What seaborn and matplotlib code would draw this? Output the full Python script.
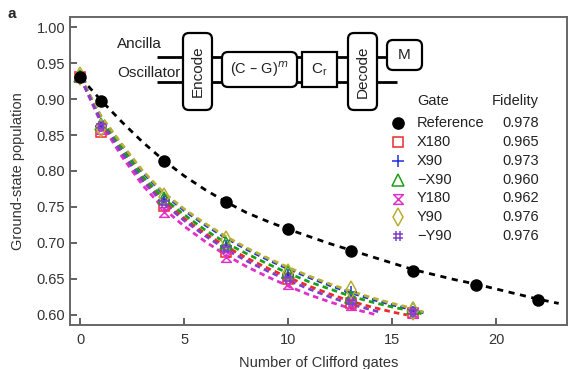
import numpy as np
import pandas as pd
import matplotlib
matplotlib.use("Agg")
import matplotlib.pyplot as plt
from matplotlib.path import Path
from matplotlib.patches import FancyBboxPatch
import seaborn as sns

# ── dados ──────────────────────────────────────────────
GATES = ["Reference", "X180", "X90", "\u2212X90", "Y180", "Y90", "\u2212Y90"]
FIDELITY = ["0.978", "0.965", "0.973", "0.960", "0.962", "0.976", "0.976"]

REF_X = [0, 1, 4, 7, 10, 13, 16, 19, 22]
REF_Y = [0.930, 0.897, 0.814, 0.757, 0.720, 0.689, 0.661, 0.642, 0.621]
REF_FIT_X = list(range(0, 24))
REF_FIT_Y = [0.930, 0.898, 0.868, 0.840, 0.815, 0.793, 0.774, 0.757, 0.742,
             0.730, 0.719, 0.709, 0.699, 0.690, 0.681, 0.672, 0.663, 0.656,
             0.649, 0.643, 0.636, 0.629, 0.622, 0.616]

GATE_X = [0, 1, 4, 7, 10, 13, 16]
X180_Y = [0.930, 0.854, 0.752, 0.688, 0.650, 0.617, 0.602]
X90_Y = [0.930, 0.862, 0.760, 0.696, 0.655, 0.632, 0.604]
MX90_Y = [0.932, 0.866, 0.762, 0.700, 0.660, 0.625, 0.610]
Y180_Y = [0.930, 0.858, 0.743, 0.681, 0.643, 0.614, 0.602]
Y90_Y = [0.932, 0.860, 0.764, 0.704, 0.658, 0.634, 0.606]
MY90_Y = [0.930, 0.862, 0.756, 0.692, 0.650, 0.618, 0.604]

FIT_X_LONG = list(range(0, 17)) + [16.5]
FIT_X_RED = list(range(0, 16)) + [15.7]
FIT_X_MAG = list(range(0, 15)) + [14.3]
FIT_X_PUR = list(range(0, 15)) + [14.4]
X180_FIT = [0.930, 0.870, 0.827, 0.788, 0.758, 0.734, 0.713, 0.695, 0.679,
            0.665, 0.652, 0.640, 0.629, 0.619, 0.611, 0.604, 0.600]
X90_FIT = [0.930, 0.875, 0.835, 0.798, 0.768, 0.745, 0.725, 0.707, 0.691,
           0.677, 0.664, 0.652, 0.641, 0.631, 0.622, 0.614, 0.607, 0.603]
MX90_FIT = [0.930, 0.872, 0.830, 0.792, 0.762, 0.739, 0.718, 0.700, 0.685,
            0.671, 0.658, 0.646, 0.636, 0.626, 0.618, 0.611, 0.605, 0.601]
Y180_FIT = [0.930, 0.866, 0.820, 0.780, 0.748, 0.723, 0.702, 0.683, 0.667,
            0.653, 0.640, 0.628, 0.618, 0.609, 0.602, 0.599]
Y90_FIT = [0.930, 0.876, 0.837, 0.800, 0.770, 0.747, 0.727, 0.709, 0.693,
           0.679, 0.666, 0.654, 0.643, 0.633, 0.624, 0.616, 0.609, 0.604]
MY90_FIT = [0.930, 0.869, 0.825, 0.786, 0.755, 0.731, 0.710, 0.691, 0.675,
            0.661, 0.648, 0.636, 0.625, 0.615, 0.607, 0.604]

# ── estilo ─────────────────────────────────────────────
sns.set_style("ticks")
plt.rcParams["font.family"] = ["Liberation Sans", "DejaVu Sans"]
plt.rcParams["font.size"] = 10.5

HOURGLASS = Path([(-1, 1), (1, 1), (-1, -1), (1, -1), (-1, 1)],
                 [Path.MOVETO, Path.LINETO, Path.LINETO, Path.LINETO, Path.CLOSEPOLY])
HASH = Path([(-0.4, -1), (-0.4, 1), (0.4, -1), (0.4, 1),
             (-1, -0.4), (1, -0.4), (-1, 0.4), (1, 0.4)],
            [Path.MOVETO, Path.LINETO] * 4)

SERIES = [
    # nome, pontos, ajuste x, ajuste y, cor, marcador
    ("X180", X180_Y, FIT_X_RED, X180_FIT, "#f02828", "s"),
    ("X90", X90_Y, FIT_X_LONG, X90_FIT, "#2030d8", "+"),
    ("\u2212X90", MX90_Y, FIT_X_LONG, MX90_FIT, "#18a018", "^"),
    ("Y180", Y180_Y, FIT_X_MAG, Y180_FIT, "#e030c8", HOURGLASS),
    ("Y90", Y90_Y, FIT_X_LONG, Y90_FIT, "#b8b030", "d"),
    ("\u2212Y90", MY90_Y, FIT_X_PUR, MY90_FIT, "#8040c8", HASH),
]
MARKER_STYLE = {"s": 7, "+": 9, "^": 8, "d": 9}

W, H = 569, 369
fig = plt.figure(figsize=(W / 100, H / 100), dpi=100)
ax = fig.add_axes([70 / W, 1 - 325 / H, 497 / W, 308 / H])

# linhas de ajuste
sns.lineplot(x=REF_FIT_X, y=REF_FIT_Y, ax=ax, color="black", lw=2,
             linestyle=(0, (2.2, 2.0)), zorder=2)
for name, pts, fx, fy, col, mk in SERIES:
    sns.lineplot(x=fx, y=fy, ax=ax, color=col, lw=2.0,
                 linestyle=(0, (2.0, 1.5)), zorder=2)

# pontos
ax.plot(REF_X, REF_Y, "o", color="black", ms=8, zorder=4)
for name, pts, fx, fy, col, mk in SERIES:
    ms = MARKER_STYLE.get(mk, 8) if isinstance(mk, str) else 7
    ax.plot(GATE_X, pts, linestyle="none", marker=mk, ms=ms, mfc="none",
            mec=col, mew=1.1, zorder=3)

ax.set_xlim(-0.5, 23.4)
ax.set_ylim(0.586, 1.014)
ax.set_xticks([0, 5, 10, 15, 20])
ax.set_yticks(np.arange(0.60, 1.001, 0.05))
ax.set_yticklabels([f"{v:.2f}" for v in np.arange(0.60, 1.001, 0.05)])
ax.tick_params(direction="in", length=5, width=1.3, colors="#555555",
               labelcolor="#333333", labelsize=10.5)
ax.tick_params(axis="x", pad=6)
for s in ax.spines.values():
    s.set_color("#666666")
    s.set_linewidth(1.4)
ax.set_xlabel("Number of Clifford gates", fontsize=10.5, color="#333333", labelpad=6)
ax.set_ylabel("Ground-state population", fontsize=10.5, color="#333333", labelpad=8)

# ── sobreposição: diagrama e tabela (coordenadas em pixels) ──
ov = fig.add_axes([0, 0, 1, 1], facecolor="none")
ov.set_xlim(0, W)
ov.set_ylim(H, 0)
ov.axis("off")

ov.text(8, 14, "a", fontsize=11, fontweight="bold", va="center")

ov.text(117, 44, "Ancilla", fontsize=11, va="center", color="#222222")
ov.text(117, 73, "Oscillator", fontsize=11, va="center", color="#222222")
wire = dict(color="black", lw=2, solid_capstyle="butt")
ov.plot([157, 410], [57, 57], **wire)
ov.plot([157, 397], [82, 82], **wire)


def caixa(x0, y0, x1, y1, texto, rot=0, fs=11, rounded=True):
    estilo = "round,pad=0,rounding_size=6" if rounded else "square,pad=0"
    ov.add_patch(FancyBboxPatch((x0, y0), x1 - x0, y1 - y0, boxstyle=estilo,
                                fc="white", ec="black", lw=1.6, zorder=5))
    ov.text((x0 + x1) / 2, (y0 + y1) / 2, texto, rotation=rot, fontsize=fs,
            ha="center", va="center", zorder=6, color="#222222")


caixa(183, 33, 212, 110, "Encode", rot=90)
caixa(222, 52, 297, 87, "(C \u2013 G)$^m$", fs=10.5)
caixa(302, 52, 337, 87, "C$_\\mathregular{r}$", rounded=False)
caixa(348, 33, 377, 110, "Decode", rot=90)
caixa(387, 40, 422, 70, "M")

# tabela de legenda
ROW_Y0, ROW_DY = 101, 18.9
ov.text(417, ROW_Y0, "Gate", fontsize=10.5, va="center", color="#222222")
ov.text(539, ROW_Y0, "Fidelity", fontsize=10.5, va="center", ha="right", color="#222222")
leg_markers = [("o", "black", True)] + [(s[5], s[4], False) for s in SERIES]
for i, (g, f) in enumerate(zip(GATES, FIDELITY)):
    y = ROW_Y0 + 3 + ROW_DY * (i + 1)
    mk, col, filled = leg_markers[i]
    ms = 8 if filled else (MARKER_STYLE.get(mk, 8) if isinstance(mk, str) else 7)
    ov.plot([398], [y], marker=mk, ms=ms, mfc=col if filled else "none",
            mec=col, mew=1.1, linestyle="none")
    ov.text(417, y, g, fontsize=10.5, va="center", color="#222222")
    ov.text(539, y, f, fontsize=10.5, va="center", ha="right", color="#222222")

fig.savefig("out.png", dpi=100)
